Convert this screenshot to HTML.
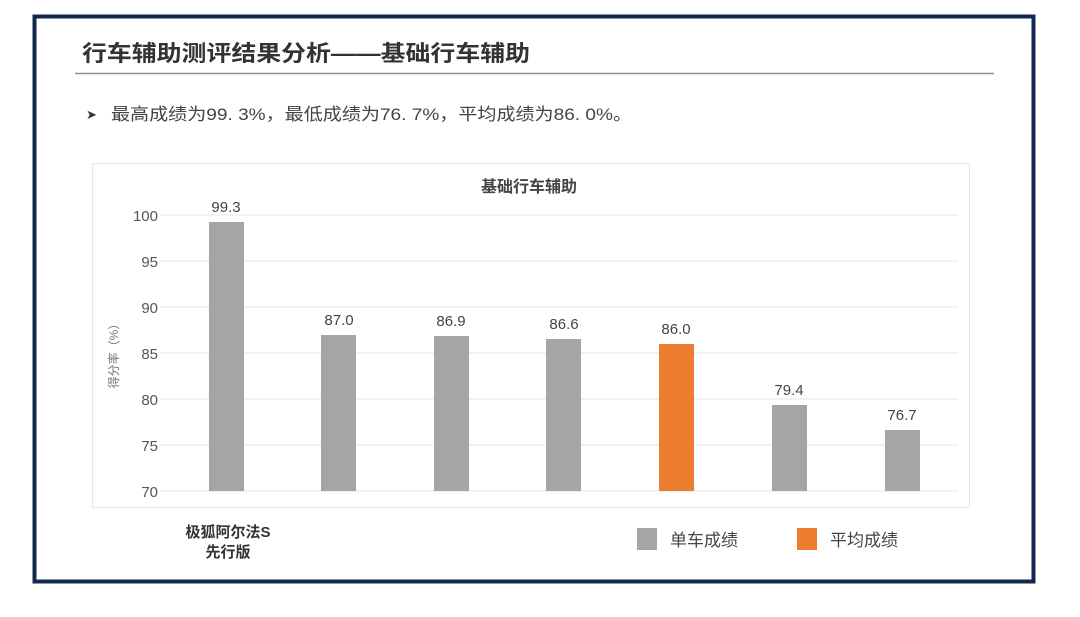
<!DOCTYPE html>
<html><head><meta charset="utf-8"><style>
html,body{margin:0;padding:0;background:#fff;}
svg{display:block;font-family:"Liberation Sans","Noto Sans CJK SC",sans-serif;}
</style></head><body>
<svg width="1080" height="617" viewBox="0 0 1080 617" xmlns="http://www.w3.org/2000/svg">
<rect x="0" y="0" width="1080" height="617" fill="#fff"/>
<rect x="34.5" y="16.5" width="999" height="565" fill="#fff" stroke="#13284d" stroke-width="4"/>
<text x="82" y="61" font-size="22" font-weight="bold" fill="#333" textLength="448" lengthAdjust="spacingAndGlyphs">行车辅助测评结果分析——基础行车辅助</text>
<line x1="75" y1="73.5" x2="994" y2="73.5" stroke="#8a8f96" stroke-width="1.5"/>
<text x="86" y="119" font-size="13" fill="#333">➤</text>
<text x="111" y="120" font-size="17" fill="#444" textLength="521" lengthAdjust="spacingAndGlyphs">最高成绩为99. 3%，最低成绩为76. 7%，平均成绩为86. 0%。</text>
<rect x="92.5" y="163.5" width="877" height="344" fill="#fff" stroke="#e6e6e6" stroke-width="1"/>
<text x="529" y="192" font-size="16" font-weight="bold" fill="#444" text-anchor="middle">基础行车辅助</text>
<g stroke="#e5e5e5" stroke-width="1">
<line x1="160" y1="215" x2="958" y2="215"/><line x1="160" y1="261" x2="958" y2="261"/>
<line x1="160" y1="307" x2="958" y2="307"/><line x1="160" y1="353" x2="958" y2="353"/>
<line x1="160" y1="399" x2="958" y2="399"/><line x1="160" y1="445" x2="958" y2="445"/>
<line x1="160" y1="491" x2="958" y2="491"/>
</g>
<g font-size="15" fill="#555" text-anchor="end">
<text x="158" y="221">100</text><text x="158" y="267">95</text><text x="158" y="313">90</text>
<text x="158" y="359">85</text><text x="158" y="405">80</text><text x="158" y="451">75</text>
<text x="158" y="497">70</text>
</g>
<text transform="translate(118,353) rotate(-90)" font-size="12" fill="#777" text-anchor="middle">得分率（%）</text>
<g fill="#a5a5a5">
<rect x="209" y="222" width="35" height="269"/>
<rect x="321" y="335" width="35" height="156"/>
<rect x="434" y="336" width="35" height="155"/>
<rect x="546" y="339" width="35" height="152"/>
<rect x="659" y="344" width="35" height="147" fill="#ed7d31"/>
<rect x="772" y="405" width="35" height="86"/>
<rect x="885" y="430" width="35" height="61"/>
</g>
<g font-size="15" fill="#444" text-anchor="middle">
<text x="226" y="212">99.3</text><text x="339" y="325">87.0</text><text x="451" y="326">86.9</text>
<text x="564" y="329">86.6</text><text x="676" y="334">86.0</text><text x="789" y="395">79.4</text>
<text x="902" y="420">76.7</text>
</g>
<text x="228" y="537" font-size="15" font-weight="bold" fill="#333" text-anchor="middle">极狐阿尔法S</text>
<text x="228" y="557" font-size="15" font-weight="bold" fill="#333" text-anchor="middle">先行版</text>
<rect x="637" y="528" width="20" height="22" fill="#a5a5a5"/>
<text x="670" y="546" font-size="17" fill="#444">单车成绩</text>
<rect x="797" y="528" width="20" height="22" fill="#ed7d31"/>
<text x="830" y="546" font-size="17" fill="#444">平均成绩</text>
</svg>
</body></html>
